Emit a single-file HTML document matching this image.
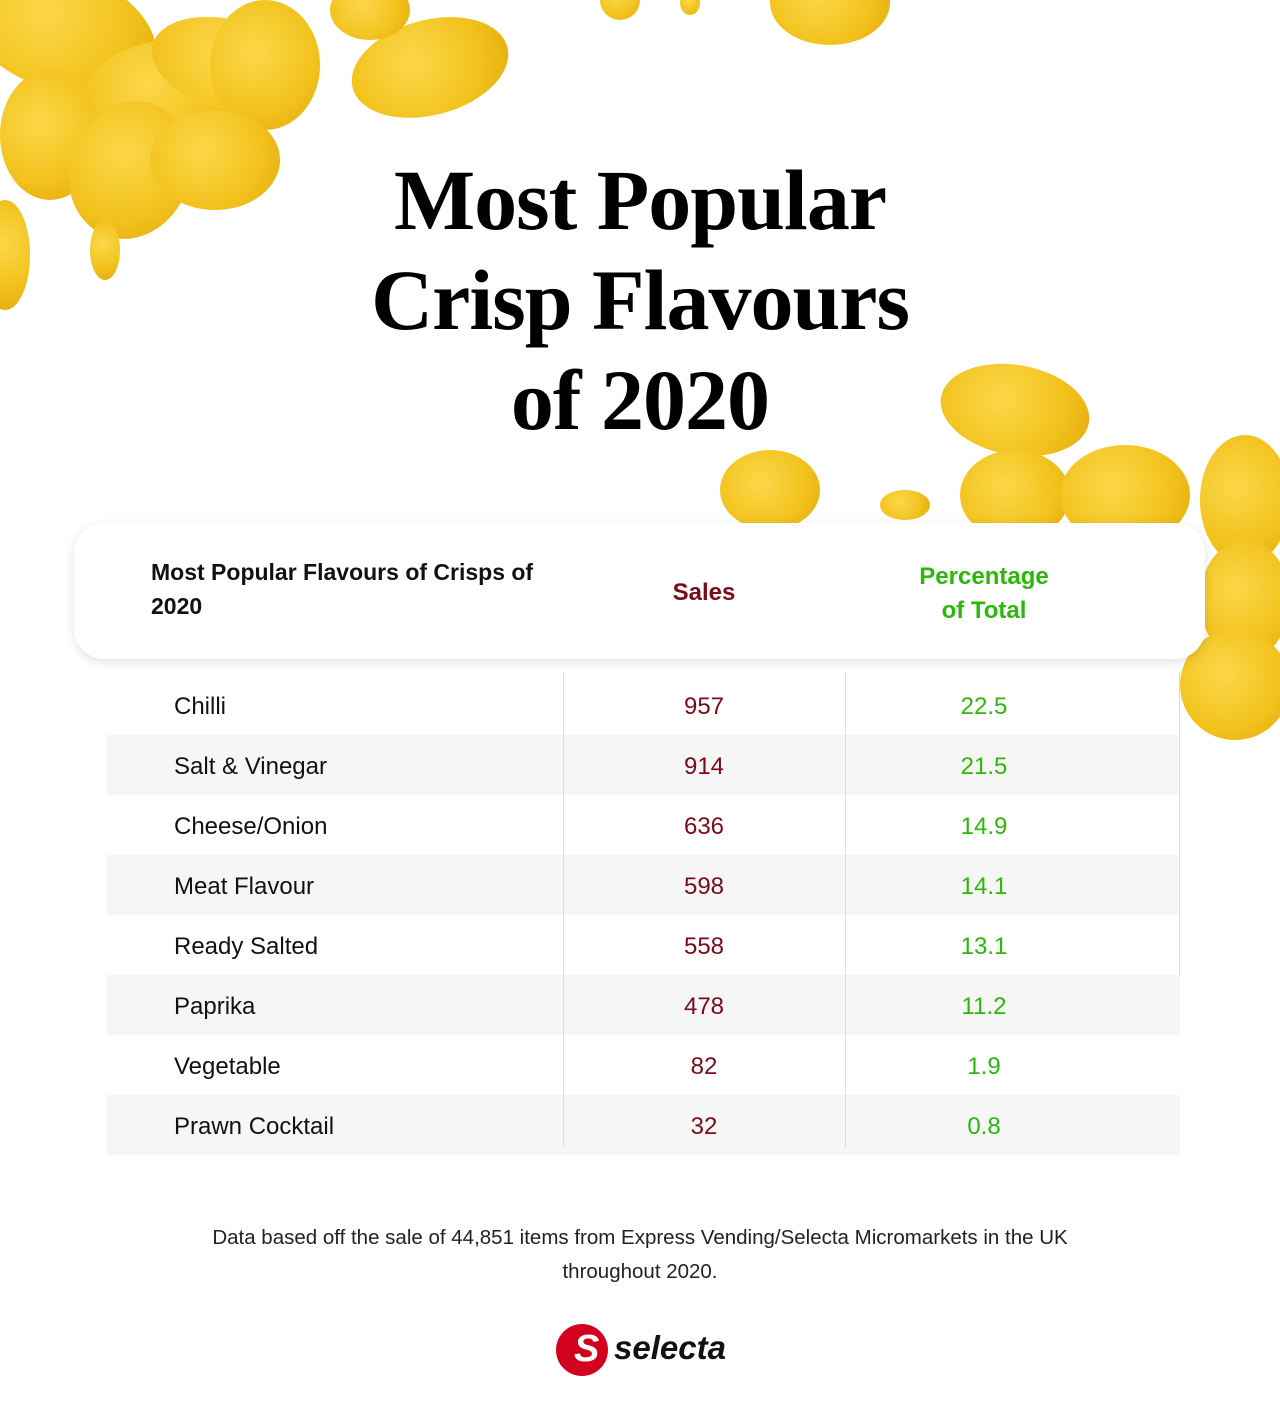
<!DOCTYPE html>
<html><head><meta charset="utf-8"><style>
body{margin:0;width:1280px;height:1427px;background:#fff;position:relative;overflow:hidden;font-family:"Liberation Sans",sans-serif}
.c{position:absolute;border-radius:50%;background:radial-gradient(circle at 40% 40%,#fbd84a,#f2c21c 60%,#e3a90f);}
h1{position:absolute;top:150px;left:0;width:1280px;margin:0;text-align:center;font-family:"Liberation Serif",serif;font-weight:bold;font-size:86px;line-height:100px;color:#000;letter-spacing:-1px}
.card{position:absolute;left:74px;top:523px;width:1131px;height:136px;background:#fff;border-radius:30px;box-shadow:0 3px 10px rgba(0,0,0,.12);z-index:3}
.row{position:absolute;left:106px;width:1074px;height:60px;font-size:24px;z-index:2}
.row.g{background:#f6f6f6}
.row span{position:absolute;top:18px}
.n{left:68px;color:#111}
.s{left:548px;width:100px;text-align:center;color:#7a0a1c}
.p{left:828px;width:100px;text-align:center;color:#2db70a}
.v{position:absolute;width:1px;background:#ddd;z-index:4}
</style></head><body>
<div class="c" style="left:-40px;top:-30px;width:200px;height:120px;transform:rotate(20deg)"></div>
<div class="c" style="left:80px;top:40px;width:170px;height:100px;transform:rotate(-10deg)"></div>
<div class="c" style="left:150px;top:20px;width:160px;height:90px;transform:rotate(15deg)"></div>
<div class="c" style="left:210px;top:0px;width:110px;height:130px"></div>
<div class="c" style="left:350px;top:20px;width:160px;height:95px;transform:rotate(-15deg)"></div>
<div class="c" style="left:330px;top:-20px;width:80px;height:60px"></div>
<div class="c" style="left:0px;top:70px;width:100px;height:130px"></div>
<div class="c" style="left:70px;top:100px;width:120px;height:140px;transform:rotate(20deg)"></div>
<div class="c" style="left:150px;top:110px;width:130px;height:100px"></div>
<div class="c" style="left:-20px;top:200px;width:50px;height:110px"></div>
<div class="c" style="left:90px;top:220px;width:30px;height:60px"></div>
<div class="c" style="left:600px;top:-20px;width:40px;height:40px"></div>
<div class="c" style="left:770px;top:-40px;width:120px;height:85px"></div>
<div class="c" style="left:680px;top:-10px;width:20px;height:25px"></div>
<div class="c" style="left:940px;top:365px;width:150px;height:90px;transform:rotate(10deg)"></div>
<div class="c" style="left:720px;top:450px;width:100px;height:80px"></div>
<div class="c" style="left:960px;top:450px;width:110px;height:90px"></div>
<div class="c" style="left:1060px;top:445px;width:130px;height:100px"></div>
<div class="c" style="left:1200px;top:435px;width:90px;height:130px"></div>
<div class="c" style="left:1200px;top:540px;width:90px;height:120px"></div>
<div class="c" style="left:1180px;top:630px;width:110px;height:110px"></div>
<div class="c" style="left:880px;top:490px;width:50px;height:30px"></div>
<h1>Most Popular<br>Crisp Flavours<br>of 2020</h1>
<div class="card">
<div style="position:absolute;left:77px;top:32px;width:430px;font-size:23px;font-weight:bold;line-height:34px;color:#111">Most Popular Flavours of Crisps of 2020</div>
<div style="position:absolute;left:580px;top:56px;width:100px;text-align:center;font-size:24px;font-weight:bold;color:#7a0a1c">Sales</div>
<div style="position:absolute;left:820px;top:37px;width:180px;text-align:center;font-size:24px;font-weight:bold;line-height:34px;color:#2db70a">Percentage<br>of Total</div>
</div>
<div class="row" style="top:675px;background:#fff"><span class="n">Chilli</span><span class="s">957</span><span class="p">22.5</span></div>
<div class="row g" style="top:735px"><span class="n">Salt &amp; Vinegar</span><span class="s">914</span><span class="p">21.5</span></div>
<div class="row" style="top:795px;background:#fff"><span class="n">Cheese/Onion</span><span class="s">636</span><span class="p">14.9</span></div>
<div class="row g" style="top:855px"><span class="n">Meat Flavour</span><span class="s">598</span><span class="p">14.1</span></div>
<div class="row" style="top:915px;background:#fff"><span class="n">Ready Salted</span><span class="s">558</span><span class="p">13.1</span></div>
<div class="row g" style="top:975px"><span class="n">Paprika</span><span class="s">478</span><span class="p">11.2</span></div>
<div class="row" style="top:1035px;background:#fff"><span class="n">Vegetable</span><span class="s">82</span><span class="p">1.9</span></div>
<div class="row g" style="top:1095px"><span class="n">Prawn Cocktail</span><span class="s">32</span><span class="p">0.8</span></div>
<div class="v" style="left:563px;top:672px;height:476px"></div>
<div class="v" style="left:845px;top:672px;height:476px"></div>
<div class="v" style="left:1179px;top:672px;height:303px"></div>
<div style="position:absolute;top:1221px;left:0;width:1280px;text-align:center;font-size:20.5px;line-height:34px;color:#222">Data based off the sale of 44,851 items from Express Vending/Selecta Micromarkets in the UK<br>throughout 2020.</div>
<div style="position:absolute;left:556px;top:1324px;width:52px;height:52px;border-radius:50%;background:#d2021e"></div>
<div style="position:absolute;left:574px;top:1328px;color:#fff;font-size:38px;font-weight:bold;font-style:italic">S</div>
<div style="position:absolute;left:614px;top:1329px;font-size:33px;font-weight:bold;font-style:italic;color:#111">selecta</div>
</body></html>
